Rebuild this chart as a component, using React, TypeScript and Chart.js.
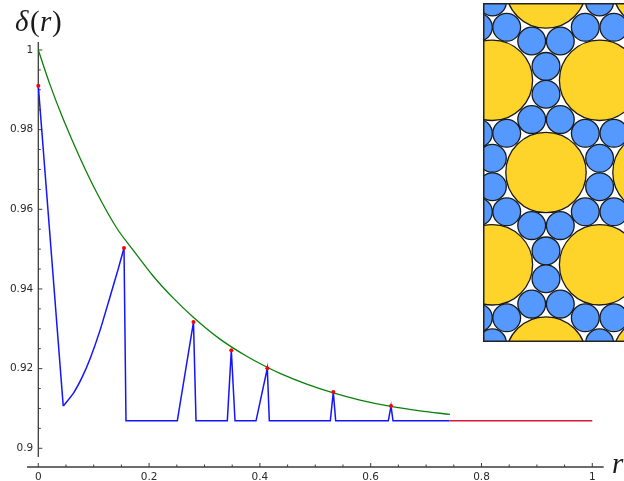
import React, { useEffect, useRef } from "react";
import { Chart, registerables } from "chart.js";

Chart.register(...registerables);

const dropR = [0, 0.045];
const dropDelta = [0.991, 0.9106];
const riseR = [0.045, 0.0632, 0.0783, 0.0933, 0.1114, 0.1294, 0.1444, 0.1547];
const riseDelta = [0.9106, 0.9138, 0.9176, 0.9224, 0.9296, 0.938, 0.9451, 0.9503];
const sawR = [0.1547, 0.1583, 0.2509, 0.2801, 0.2847, 0.3412, 0.3484, 0.3551, 0.393, 0.4134, 0.417, 0.5271, 0.5325, 0.5368, 0.6318, 0.6367, 0.6403, 0.742];
const sawDelta = [0.9503, 0.9069, 0.9069, 0.9317, 0.9069, 0.9069, 0.9246, 0.9069, 0.9069, 0.9201, 0.9069, 0.9069, 0.9141, 0.9069, 0.9069, 0.9106, 0.9069, 0.9069];
const greenR = [0, 0.0211, 0.0451, 0.0753, 0.1054, 0.1415, 0.1715, 0.2076, 0.2437, 0.2798, 0.328, 0.3762, 0.4123, 0.4363, 0.4845, 0.5325, 0.5807, 0.6366, 0.689, 0.7431];
const greenDelta = [1, 0.9913, 0.9826, 0.9729, 0.9642, 0.9553, 0.9497, 0.9432, 0.9377, 0.9329, 0.9274, 0.9231, 0.9204, 0.9188, 0.9161, 0.9139, 0.9121, 0.9105, 0.9094, 0.9085];
const redLineR = [0.742, 1];
const redLineDelta = [0.9069, 0.9069];
const peakR = [0, 0.1547, 0.2801, 0.3484, 0.4134, 0.5325, 0.6367];
const peakDelta = [0.991, 0.9503, 0.9317, 0.9246, 0.9201, 0.9141, 0.9106];

const xTicks = [0, 0.05, 0.1, 0.15, 0.2, 0.25, 0.3, 0.35, 0.4, 0.45, 0.5, 0.55, 0.6, 0.65, 0.7, 0.75, 0.8, 0.85, 0.9, 0.95, 1];
const xTickLabels = ["0", "", "", "", "0.2", "", "", "", "0.4", "", "", "", "0.6", "", "", "", "0.8", "", "", "", "1"];
const yTicks = [0.9, 0.905, 0.91, 0.915, 0.92, 0.925, 0.93, 0.935, 0.94, 0.945, 0.95, 0.955, 0.96, 0.965, 0.97, 0.975, 0.98, 0.985, 0.99, 0.995, 1];
const yTickLabels = ["0.9", "", "", "", "0.92", "", "", "", "0.94", "", "", "", "0.96", "", "", "", "0.98", "", "", "", "1"];

const yellowX = [63, 170, 9.4, 116.6, 63, 170, 9.4, 116.6, 63, 170];
const yellowY = [-15, -15, 77.3, 77.3, 169.5, 169.5, 261.8, 261.8, 354, 354];
const smallX = [9.4, 116.6, -4.6, 23.7, 102.3, 130.9, 48.7, 77.3, 63, 63, 48.7, 77.3, -4.6, 23.7, 102.3, 130.9, 9.4, 116.6, 9.4, 116.6, -4.6, 23.7, 102.3, 130.9, 48.7, 77.3, 63, 63, 48.7, 77.3, -4.6, 23.7, 102.3, 130.9, 9.4, 116.6];
const smallY = [-1, -1, 24.3, 24.3, 24.3, 24.3, 38, 38, 63.4, 91.2, 116.6, 116.6, 130.3, 130.3, 130.3, 130.3, 155.3, 155.3, 183.7, 183.7, 208.8, 208.8, 208.8, 208.8, 222.6, 222.6, 247.9, 275.7, 301.1, 301.1, 314.8, 314.8, 314.8, 314.8, 339.8, 339.8];

const zip = (a: number[], b: number[]) => a.map((x, i) => ({ x, y: b[i] }));

const AXIS_COLOR = "#3c3c3c";
const LABEL_FONT = "DejaVu Sans";
const xAxisStart = -0.0204;
const xAxisValue = 0.8953;
const yAxisEnd = 0.8978;

const axesPlugin = {
  id: "detachedAxes",
  beforeDatasetsDraw(chart: any) {
    const { ctx, scales, chartArea } = chart;
    const xs = scales.x;
    const ys = scales.y;
    const x0 = xs.getPixelForValue(0);
    const yAxis = ys.getPixelForValue(xAxisValue);
    ctx.save();
    ctx.strokeStyle = AXIS_COLOR;
    ctx.lineWidth = 1.3;
    ctx.beginPath();
    ctx.moveTo(xs.getPixelForValue(xAxisStart), yAxis);
    ctx.lineTo(chartArea.right, yAxis);
    ctx.moveTo(x0, chartArea.top);
    ctx.lineTo(x0, ys.getPixelForValue(yAxisEnd));
    ctx.stroke();
    ctx.lineWidth = 1;
    ctx.beginPath();
    xTicks.forEach((v, i) => {
      const p = xs.getPixelForValue(v);
      ctx.moveTo(p, yAxis);
      ctx.lineTo(p, yAxis - (xTickLabels[i] ? 4 : 2.5));
    });
    yTicks.forEach((v, i) => {
      const p = ys.getPixelForValue(v);
      ctx.moveTo(x0, p);
      ctx.lineTo(x0 + (yTickLabels[i] ? 4 : 2.5), p);
    });
    ctx.stroke();
    ctx.restore();
  },
  afterDraw(chart: any) {
    const { ctx } = chart;
    ctx.save();
    ctx.fillStyle = "#1a1a1a";
    ctx.textBaseline = "alphabetic";
    ctx.textAlign = "left";
    const italic = 'italic 29px "Liberation Serif"';
    const upright = '29px "Liberation Serif"';
    const parts: [string, string, number][] = [
      ["δ", italic, 15],
      ["(", upright, 30],
      ["r", italic, 40],
      [")", upright, 52],
    ];
    parts.forEach(([t, f, x]) => {
      ctx.font = f;
      ctx.fillText(t, x, 31);
    });
    ctx.font = italic;
    ctx.fillText("r", 612, 473);
    ctx.restore();
  },
};

const insetFrame = {
  id: "insetFrame",
  afterDraw(chart: any) {
    const { ctx, width, height } = chart;
    ctx.save();
    ctx.strokeStyle = "#222";
    ctx.lineWidth = 1.5;
    ctx.strokeRect(0.75, 0.75, width + 10, height - 1.5);
    ctx.restore();
  },
};

export default function App() {
  const mainRef = useRef<HTMLCanvasElement>(null);
  const insetRef = useRef<HTMLCanvasElement>(null);

  useEffect(() => {
    const main = new Chart(mainRef.current!, {
      type: "scatter",
      data: {
        datasets: [
          { data: zip(peakR, peakDelta), showLine: false, pointRadius: 2, pointBorderWidth: 0, pointBackgroundColor: "#ff0000", clip: false },
          { data: zip(redLineR, redLineDelta), showLine: true, borderColor: "#dc143c", borderWidth: 1.5, pointRadius: 0, clip: false },
          { data: zip(dropR, dropDelta), showLine: true, borderColor: "#1414ff", borderWidth: 1.5, pointRadius: 0, clip: false },
          { data: zip(riseR, riseDelta), showLine: true, borderColor: "#1414ff", borderWidth: 1.5, pointRadius: 0, tension: 0.2, clip: false },
          { data: zip(sawR, sawDelta), showLine: true, borderColor: "#1414ff", borderWidth: 1.5, pointRadius: 0, clip: false },
          { data: zip(greenR, greenDelta), showLine: true, borderColor: "#0a800a", borderWidth: 1.3, pointRadius: 0, cubicInterpolationMode: "monotone", clip: false },
        ],
      },
      options: {
        animation: false,
        responsive: false,
        layout: { autoPadding: false, padding: { left: 0, right: 20.3, top: 42, bottom: 0 } },
        plugins: { legend: { display: false }, tooltip: { enabled: false }, title: { display: false } },
        scales: {
          x: {
            type: "linear",
            position: "bottom",
            min: 0,
            max: 1.0206,
            grid: { display: false, drawTicks: false },
            border: { display: false },
            afterBuildTicks: (s: any) => {
              s.ticks = xTicks.map((value) => ({ value }));
            },
            afterFit: (s: any) => {
              s.height = 14;
            },
            ticks: {
              autoSkip: false,
              maxRotation: 0,
              padding: 4,
              color: "#2a2a2a",
              font: { family: LABEL_FONT, size: 10.5 },
              callback: (_v: any, i: number) => xTickLabels[i],
            },
          },
          y: {
            type: "linear",
            position: "left",
            min: xAxisValue,
            max: 1.002,
            grid: { display: false, drawTicks: false },
            border: { display: false },
            afterBuildTicks: (s: any) => {
              s.ticks = yTicks.map((value) => ({ value }));
            },
            afterFit: (s: any) => {
              s.width = 38.3;
            },
            ticks: {
              autoSkip: false,
              padding: 5,
              color: "#2a2a2a",
              font: { family: LABEL_FONT, size: 10.5 },
              callback: (_v: any, i: number) => yTickLabels[i],
            },
          },
        },
      } as any,
      plugins: [axesPlugin],
    });

    const inset = new Chart(insetRef.current!, {
      type: "scatter",
      data: {
        datasets: [
          { data: zip(smallX, smallY), pointRadius: 13.9, pointBorderWidth: 1.3, pointBorderColor: "#1a1a1a", pointBackgroundColor: "#5599ff" },
          { data: zip(yellowX, yellowY), pointRadius: 40.2, pointBorderWidth: 1.3, pointBorderColor: "#1a1a1a", pointBackgroundColor: "#ffd42a" },
        ],
      },
      options: {
        animation: false,
        responsive: false,
        layout: { autoPadding: false, padding: 0 },
        plugins: { legend: { display: false }, tooltip: { enabled: false } },
        scales: {
          x: { type: "linear", display: false, min: 0, max: 141 },
          y: { type: "linear", display: false, min: 0, max: 339, reverse: true },
        },
      } as any,
      plugins: [insetFrame],
    });

    return () => {
      main.destroy();
      inset.destroy();
    };
  }, []);

  return (
    <div style={{ position: "absolute", left: 0, top: 0, width: 624, height: 481, background: "#fff", overflow: "hidden" }}>
      <canvas ref={mainRef} width={624} height={481} style={{ position: "absolute", left: 0, top: 0, display: "block" }} />
      <canvas ref={insetRef} width={141} height={339} style={{ position: "absolute", left: 483, top: 3, display: "block" }} />
    </div>
  );
}
